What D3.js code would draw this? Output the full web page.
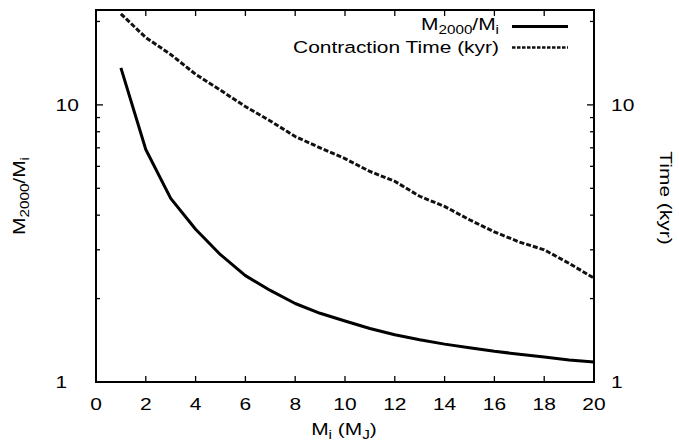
<!DOCTYPE html>
<html>
<head>
<meta charset="utf-8">
<script src="https://cdn.jsdelivr.net/npm/d3@7/dist/d3.min.js"></script>
<style>
  html, body { margin: 0; padding: 0; background: #fff; }
  svg { display: block; }
  text { font-family: "Liberation Sans", Arial, Helvetica, sans-serif; fill: #000; }
</style>
</head>
<body>
<svg id="chart" width="679" height="445"></svg>
<script>
// ---- data ----
const massInitial = [1, 2, 3, 4, 5, 6, 7, 8, 9, 10, 11, 12, 13, 14, 15, 16, 17, 18, 19, 20];
const massRatio = [13.6, 6.9, 4.6, 3.56, 2.88, 2.42, 2.14, 1.92, 1.77, 1.66, 1.56, 1.48, 1.42, 1.37, 1.33, 1.29, 1.26, 1.23, 1.20, 1.18];
const contractionTime = [21.3, 17.5, 15.2, 12.9, 11.3, 9.86, 8.75, 7.69, 7.0, 6.4, 5.75, 5.3, 4.68, 4.3, 3.85, 3.48, 3.2, 3.0, 2.68, 2.37];
const xTicks = [0, 2, 4, 6, 8, 10, 12, 14, 16, 18, 20];
const yMajorTicks = [1, 10];
const yMinorTicks = [2, 3, 4, 5, 6, 7, 8, 9, 20];
const seriesNames = ["M2000/Mi", "Contraction Time (kyr)"];

// ---- layout ----
const svg = d3.select("#chart");
const L = 96, R = 594, T = 10, B = 382;
const FS = 16.5, SUB = 12, SX = 1.27;

const x = d3.scaleLinear().domain([0, 20]).range([L, R]);
const y = d3.scaleLog().domain([1, 22]).range([B, T]);

// helper for horizontally-wide text
function label(px, py, anchor, rot) {
  const t = svg.append("text")
    .attr("transform", `translate(${px},${py}) rotate(${rot || 0}) scale(${SX},1)`)
    .attr("text-anchor", anchor)
    .style("font-size", FS + "px");
  return t;
}
function addSub(t, parts) {
  // parts: [text, isSub]
  let cur = false;
  parts.forEach(([s, sub]) => {
    const ts = t.append("tspan").text(s);
    if (sub) ts.style("font-size", SUB + "px");
    if (sub !== cur) ts.attr("dy", sub ? 4.3 : -4.3);
    cur = sub;
  });
}

// ---- ticks (inward, mirrored) ----
const tickG = svg.append("g").attr("stroke", "#000").attr("stroke-width", 1.3);
xTicks.forEach(v => {
  tickG.append("line").attr("x1", x(v)).attr("x2", x(v)).attr("y1", B).attr("y2", B - 6);
  tickG.append("line").attr("x1", x(v)).attr("x2", x(v)).attr("y1", T).attr("y2", T + 6);
});
yMajorTicks.forEach(v => {
  tickG.append("line").attr("x1", L).attr("x2", L + 7).attr("y1", y(v)).attr("y2", y(v));
  tickG.append("line").attr("x1", R).attr("x2", R - 7).attr("y1", y(v)).attr("y2", y(v));
});
yMinorTicks.forEach(v => {
  tickG.append("line").attr("x1", L).attr("x2", L + 4).attr("y1", y(v)).attr("y2", y(v));
  tickG.append("line").attr("x1", R).attr("x2", R - 4).attr("y1", y(v)).attr("y2", y(v));
});

// ---- frame ----
svg.append("rect").attr("x", L).attr("y", T).attr("width", R - L).attr("height", B - T)
  .attr("fill", "none").attr("stroke", "#000").attr("stroke-width", 2);

// ---- tick labels ----
xTicks.forEach(v => label(x(v), B + 27.5, "middle").text(v));
yMajorTicks.forEach(v => {
  label(55.5, y(v) + 6, "start").text(v);
  label(611, y(v) + 6, "start").text(v);
});

// ---- axis titles ----
addSub(label(344, 435, "middle"), [["M", false], ["i", true], [" (M", false], ["J", true], [")", false]]);
addSub(label(25, 196, "middle", -90), [["M", false], ["2000", true], ["/M", false], ["i", true]]);
label(660, 198, "middle", 90).text("Time (kyr)");

// ---- lines ----
const lineGen = vals => d3.line().x((d, i) => x(massInitial[i])).y(d => y(d))(vals);
svg.append("path").attr("d", lineGen(massRatio))
  .attr("fill", "none").attr("stroke", "#000").attr("stroke-width", 3).attr("stroke-linejoin", "round");
svg.append("path").attr("d", lineGen(contractionTime))
  .attr("fill", "none").attr("stroke", "#111").attr("stroke-width", 3).attr("stroke-dasharray", "5,2");

// ---- legend ----
addSub(label(499, 30, "end"), [["M", false], ["2000", true], ["/M", false], ["i", true]]);
label(499, 53, "end").text(seriesNames[1]);
svg.append("line").attr("x1", 512).attr("x2", 568).attr("y1", 26.5).attr("y2", 26.5)
  .attr("stroke", "#000").attr("stroke-width", 3);
svg.append("line").attr("x1", 512).attr("x2", 568).attr("y1", 47.5).attr("y2", 47.5)
  .attr("stroke", "#111").attr("stroke-width", 2.5).attr("stroke-dasharray", "3.5,1.5");
</script>
</body>
</html>
